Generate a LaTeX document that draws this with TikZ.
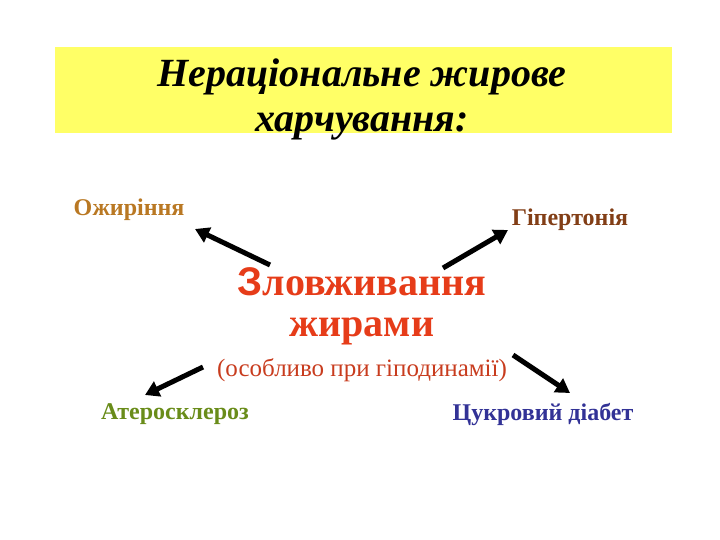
\documentclass[tikz,border=0pt]{standalone}
\usepackage{fontspec}
\setmainfont{Liberation Serif}
\newfontfamily\sansfont{Liberation Sans}
\usetikzlibrary{arrows.meta}

\definecolor{titleyellow}{RGB}{255,255,102}
\definecolor{mainred}{RGB}{230,60,25}
\definecolor{notered}{RGB}{200,60,30}
\definecolor{obesecol}{RGB}{185,120,35}
\definecolor{hypercol}{RGB}{130,62,22}
\definecolor{athercol}{RGB}{105,140,25}
\definecolor{diabcol}{RGB}{50,50,150}

\tikzset{
  label/.style={font=\bfseries\fontsize{24}{28}\selectfont, inner sep=0pt},
  thickarrow/.style={line width=5pt, -{Triangle[length=14pt,width=16pt]}}
}

\begin{document}
\begin{tikzpicture}[x=1pt,y=-1pt]
            \useasboundingbox (0,0) rectangle (720,540);

            % Title bar
            \fill[titleyellow] (55,47) rectangle (672,133);
            \node[align=center, inner sep=0pt,
              font=\bfseries\itshape\fontsize{40}{45}\selectfont] (title) at (362,99)
              {Нераціональне жирове\\харчування:};

            % Centre text
            \node[text=mainred, inner sep=0pt, font=\bfseries\fontsize{40}{46}\selectfont]
              (abuse) at (362,282) {{\sansfont З}ловживання};
            \node[text=mainred, inner sep=0pt, font=\bfseries\fontsize{40}{46}\selectfont]
              (fats) at (362,331) {жирами};
            \node[text=notered, inner sep=0pt, font=\fontsize{25}{30}\selectfont]
              (note) at (362,370) {(особливо при гіподинамії)};

            % Consequences
            \node[label, text=obesecol] (obesity) at (129,210) {Ожиріння};
            \node[label, text=hypercol] (hyper) at (570,220) {Гіпертонія};
            \node[label, text=athercol] (ather) at (175,414) {Атеросклероз};
            \node[label, text=diabcol] (diabetes) at (543,414) {Цукровий діабет};

            % Arrow ends
            \coordinate (a1) at (270,265);
            \coordinate (b1) at (195,229);
            \coordinate (a2) at (443,268);
            \coordinate (b2) at (508,230);
            \coordinate (a3) at (203,367);
            \coordinate (b3) at (145,395);
            \coordinate (a4) at (513,355);
            \coordinate (b4) at (570,393);

            % Arrows
            \draw[thickarrow] (a1) -- (b1);
            \draw[thickarrow] (a2) -- (b2);
            \draw[thickarrow] (a3) -- (b3);
            \draw[thickarrow] (a4) -- (b4);
\end{tikzpicture}
\end{document}
